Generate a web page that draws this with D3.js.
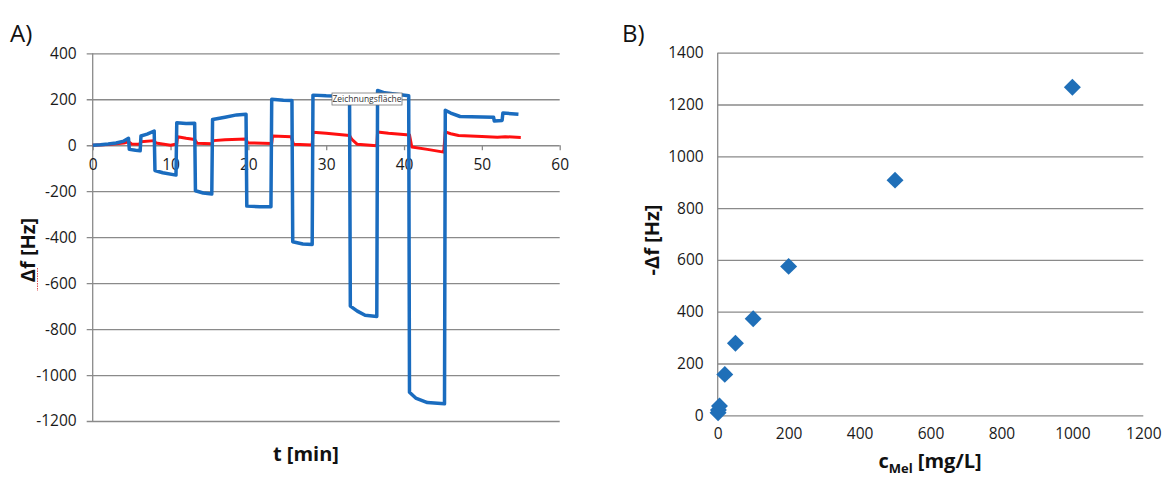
<!DOCTYPE html>
<html lang="de">
  <head>
    <meta charset="UTF-8" />
    <script src="https://cdn.jsdelivr.net/npm/d3@7/dist/d3.min.js"></script>
    <style>
      body {
        margin: 0;
        background: #fff;
        font-family: "Open Sans", sans-serif;
      }
      .tick text {
        font-family: "Open Sans", sans-serif;
        font-size: 15.5px;
        fill: #1a1a1a;
      }
      .grid line {
        stroke: #8a8a8a;
        stroke-width: 1.3px;
      }
      .title {
        font-weight: bold;
        fill: #111;
      }
    </style>
  </head>
  <body>
    <div class="canvas"></div>
    <script>
      // panel A: frequency shift vs time, [t (min), delta f (Hz)]
      const blueTrace = [
        [0, 0], [1, 2], [2, 5], [3, 10], [4, 18], [4.6, 30],
        [4.7, -18], [5.5, -22], [6.1, -24],
        [6.2, 40], [7, 48], [7.9, 62],
        [8.0, -110], [9, -120], [10.7, -130],
        [10.8, 98], [12, 95], [13.1, 96],
        [13.2, -198], [14.2, -208], [15.3, -212],
        [15.4, 112], [17, 122], [18.5, 132], [19.7, 135],
        [19.8, -265], [21.5, -268], [22.9, -268],
        [23.0, 200], [24.5, 196], [25.6, 195],
        [25.7, -420], [27, -430], [28.2, -432],
        [28.3, 218], [30, 215], [33.0, 212],
        [33.1, -700], [34, -722], [35, -740], [36.5, -745],
        [36.6, 238], [37.5, 228], [40.6, 215],
        [40.7, -1075], [41.5, -1100], [43, -1120], [45.2, -1125],
        [45.3, 152], [46, 140], [47.2, 125], [51.5, 122],
        [51.6, 105], [52.6, 108],
        [52.7, 140], [54.7, 135],
      ];
      const redTrace = [
        [0, 0], [2, 3], [4, 10], [4.6, 15], [5, 5], [6, 4], [6.2, 15],
        [7.9, 20], [8.1, 10], [10, 0], [10.8, 5],
        [10.9, 37], [12, 30], [13.1, 25], [13.4, 9], [15.3, 6],
        [15.5, 20], [17, 24], [19.7, 27], [19.9, 10], [23, 8],
        [23.1, 40], [25.5, 37], [25.8, 4], [28.2, 1],
        [28.3, 56], [30, 52], [33, 42], [33.3, 25], [34, 4], [36.5, -2],
        [36.6, 58], [38, 52], [40.7, 45], [41, -8], [43, -18], [45.1, -30],
        [45.3, 58], [46, 50], [47, 42], [50, 38], [52, 35], [53, 37], [55, 34],
      ];
      const xTicksA = [0, 10, 20, 30, 40, 50, 60];
      const yTicksA = [400, 200, 0, -200, -400, -600, -800, -1000, -1200];

      // panel B: -delta f vs melamine concentration
      const concentration = [1, 2, 5, 20, 50, 100, 200, 500, 1000];
      const negShift = [10, 20, 36, 158, 278, 373, 575, 908, 1267];
      const xTicksB = [0, 200, 400, 600, 800, 1000, 1200];
      const yTicksB = [0, 200, 400, 600, 800, 1000, 1200, 1400];

      // plain integers like Excel: no thousands separator, ascii minus
      const plain = (d) => String(d);

      const svg = d3
        .select(".canvas")
        .append("svg")
        .attr("width", 1162)
        .attr("height", 479);

      /**
       * Panel A
       */
      const xA = d3.scaleLinear().domain([0, 60]).range([92.7, 559.7]);
      const yA = d3.scaleLinear().domain([-1200, 400]).range([421, 53.3]);

      const gA = svg.append("g");

      // horizontal grid + y labels
      gA.append("g")
        .attr("class", "grid")
        .attr("transform", `translate(${xA(0)},0)`)
        .call(
          d3
            .axisLeft(yA)
            .tickValues(yTicksA)
            .tickFormat(plain)
            .tickSize(-(xA(60) - xA(0)))
            .tickSizeOuter(0)
            .tickPadding(16)
        )
        .call((g) => g.select(".domain").remove())
        .call((g) => g.selectAll(".tick line").attr("x1", -6));

      gA.append("line")
        .attr("x1", xA(0))
        .attr("x2", xA(0))
        .attr("y1", yA(400))
        .attr("y2", yA(-1200))
        .attr("stroke", "#8a8a8a")
        .attr("stroke-width", 1.3);

      // x axis sits on the zero line
      gA.append("g")
        .attr("class", "grid")
        .attr("transform", `translate(0,${yA(0)})`)
        .call(
          d3
            .axisBottom(xA)
            .tickValues(xTicksA)
            .tickFormat(plain)
            .tickSize(5)
            .tickSizeOuter(0)
            .tickPadding(9)
        )
        .call((g) => g.select(".domain").remove());

      const line = d3
        .line()
        .x((d) => xA(d[0]))
        .y((d) => yA(d[1]));

      gA.append("path")
        .datum(redTrace)
        .attr("fill", "none")
        .attr("stroke", "#ff1010")
        .attr("stroke-width", 3)
        .attr("stroke-linejoin", "round")
        .attr("d", line);

      gA.append("path")
        .datum(blueTrace)
        .attr("fill", "none")
        .attr("stroke", "#1a6cbf")
        .attr("stroke-width", 3.5)
        .attr("stroke-linejoin", "round")
        .attr("d", line);

      // the "Zeichnungsfläche" hover label captured in the screenshot
      const tip = gA.append("g").attr("transform", "translate(332,93)");
      tip.append("rect")
        .attr("width", 70)
        .attr("height", 12)
        .attr("fill", "#fff")
        .attr("stroke", "#777")
        .attr("stroke-width", 0.8);
      tip.append("text")
        .attr("x", 35)
        .attr("y", 9)
        .attr("text-anchor", "middle")
        .style("font-size", "8.5px")
        .style("fill", "#333")
        .text("Zeichnungsfläche");

      gA.append("text")
        .attr("x", 10)
        .attr("y", 42)
        .style("font-size", "24px")
        .style("fill", "#111")
        .text("A)");

      gA.append("text")
        .attr("class", "title")
        .attr("x", 306)
        .attr("y", 461)
        .attr("text-anchor", "middle")
        .style("font-size", "20px")
        .text("t [min]");

      gA.append("text")
        .attr("class", "title")
        .attr("transform", "translate(35,250) rotate(-90)")
        .attr("text-anchor", "middle")
        .style("font-size", "20px")
        .text("Δf [Hz]");

      // spell-check squiggle under "Δf"
      gA.append("line")
        .attr("x1", 37.5)
        .attr("x2", 37.5)
        .attr("y1", 268)
        .attr("y2", 291)
        .attr("stroke", "#e05050")
        .attr("stroke-width", 1)
        .attr("stroke-dasharray", "1.5,1");

      /**
       * Panel B
       */
      const xB = d3.scaleLinear().domain([0, 1200]).range([717.7, 1143.3]);
      const yB = d3.scaleLinear().domain([0, 1400]).range([415.3, 52.7]);

      const gB = svg.append("g");

      gB.append("g")
        .attr("class", "grid")
        .attr("transform", `translate(${xB(0)},0)`)
        .call(
          d3
            .axisLeft(yB)
            .tickValues(yTicksB)
            .tickFormat(plain)
            .tickSize(-(xB(1200) - xB(0)))
            .tickSizeOuter(0)
            .tickPadding(14)
        )
        .call((g) => g.select(".domain").remove());

      gB.append("line")
        .attr("x1", xB(0))
        .attr("x2", xB(0))
        .attr("y1", yB(1400))
        .attr("y2", yB(0))
        .attr("stroke", "#8a8a8a")
        .attr("stroke-width", 1.3);

      gB.append("g")
        .attr("class", "grid")
        .attr("transform", `translate(0,${yB(0)})`)
        .call(
          d3
            .axisBottom(xB)
            .tickValues(xTicksB)
            .tickFormat(plain)
            .tickSize(0)
            .tickSizeOuter(0)
            .tickPadding(13)
        )
        .call((g) => g.select(".domain").remove());

      gB.append("g")
        .selectAll("rect")
        .data(concentration)
        .join("rect")
        .attr("x", -6)
        .attr("y", -6)
        .attr("width", 12)
        .attr("height", 12)
        .attr("fill", "#1f6fb8")
        .attr(
          "transform",
          (d, i) => `translate(${xB(d)},${yB(negShift[i])}) rotate(45)`
        );

      gB.append("text")
        .attr("x", 622)
        .attr("y", 42)
        .style("font-size", "24px")
        .style("fill", "#111")
        .text("B)");

      const xTitle = gB
        .append("text")
        .attr("class", "title")
        .attr("x", 930)
        .attr("y", 468)
        .attr("text-anchor", "middle")
        .style("font-size", "20px");
      xTitle.append("tspan").text("c");
      xTitle.append("tspan").attr("dy", 5).style("font-size", "13px").text("Mel");
      xTitle.append("tspan").attr("dy", -5).text(" [mg/L]");

      gB.append("text")
        .attr("class", "title")
        .attr("transform", "translate(659,240) rotate(-90)")
        .attr("text-anchor", "middle")
        .style("font-size", "20px")
        .text("-Δf [Hz]");
    </script>
  </body>
</html>
